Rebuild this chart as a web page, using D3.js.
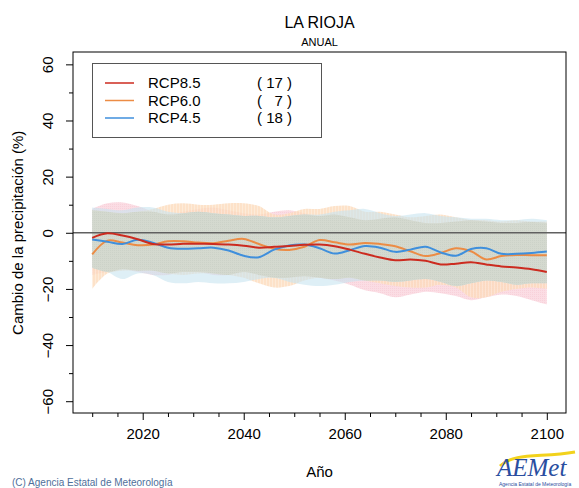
<!DOCTYPE html>
<html><head><meta charset="utf-8">
<script src="https://cdn.jsdelivr.net/npm/d3@7"></script>
<style>body{margin:0;background:#fff;}svg{display:block;font-family:"Liberation Sans",Arial,sans-serif;}</style>
</head><body>
<script>
const years = [2010,2013,2016,2019,2022,2025,2028,2031,2034,2037,2040,2043,2046,2049,2052,2055,2058,2061,2064,2067,2070,2073,2076,2079,2082,2085,2088,2091,2094,2097,2100];

const rcp85 = [-1.8,-0.2,-1.0,-2.3,-4.0,-4.2,-3.9,-3.9,-4.0,-4.2,-4.6,-5.3,-5.0,-4.7,-4.3,-4.2,-4.8,-6.0,-7.5,-8.8,-9.8,-9.5,-10.0,-11.3,-11.0,-10.5,-11.3,-12.0,-12.4,-13.0,-14.0];
const rcp60 = [-7.7,-2.8,-3.5,-4.4,-4.2,-3.0,-3.0,-3.5,-3.7,-2.8,-2.2,-4.0,-5.7,-6.1,-5.0,-2.6,-3.4,-4.2,-3.6,-4.0,-4.8,-6.6,-8.3,-7.2,-5.5,-6.6,-9.5,-8.3,-7.9,-8.0,-8.0];
const rcp45 = [-2.4,-3.2,-4.0,-2.5,-3.5,-5.3,-5.7,-5.5,-5.3,-6.3,-8.2,-8.7,-6.0,-4.5,-4.2,-5.5,-7.4,-6.2,-4.7,-5.3,-6.8,-6.0,-5.0,-7.0,-8.2,-5.8,-5.5,-7.5,-7.5,-7.2,-6.7];

const rcp85Hi = [8.5,10.5,10.8,9.5,7.5,6.5,7.5,8.5,9.0,8.0,7.0,6.5,7.5,8.0,7.0,6.0,6.5,5.5,4.5,5.0,5.5,4.5,3.5,3.5,4.0,4.5,4.0,3.5,3.5,3.8,3.5];
const rcp85Lo = [-15,-14,-13,-14,-15,-15,-14,-14,-15,-15,-14,-15,-16,-16,-15.5,-16,-17,-18.5,-20.5,-21.5,-23,-22,-21,-21.5,-22.5,-24,-23,-22,-22.5,-24,-25.5];
const rcp60Hi = [8,7.5,7,7.5,8.5,10,10.5,10,10,10.5,10.5,9.5,6.5,7,8.5,8.5,9.5,9.5,7.5,7.5,6.5,5.5,6.0,6.5,5.5,4.5,4.5,4.0,4.5,4.0,4.0];
const rcp60Lo = [-20,-14.5,-13.5,-13.5,-13.5,-14.5,-15,-14.5,-14.5,-15,-16,-18,-19.5,-19,-17,-16,-16.5,-16,-17,-18,-19,-19.5,-19.5,-18.5,-19.5,-23,-23,-21,-20,-19.5,-20];
const rcp45Hi = [9,8.5,8.0,9.0,9.0,7.5,7.0,7.5,7.0,6.5,6.0,6.0,5.5,6.0,6.5,6.5,7.5,8.0,8.5,7.0,6.0,6.5,7.0,6.0,5.5,5.0,5.0,4.5,4.5,5.0,4.5];
const rcp45Lo = [-12.5,-14,-16.5,-14.5,-15,-17.5,-18,-17.5,-18,-18,-17.5,-16.5,-16,-17.5,-18.5,-19,-18.5,-17.5,-17,-17,-17.5,-17,-16.5,-17.5,-19,-18,-17,-17.5,-18.5,-18,-18];

const seriesNames = ["RCP8.5","RCP6.0","RCP4.5"];
const seriesCounts = ["( 17 )","(   7 )","( 18 )"];
const xTicks = [2020,2040,2060,2080,2100];
const yTicks = [-60,-40,-20,0,20,40,60];

const W=579,H=488;
const L=73,R=566,T=52,B=413;
const svg=d3.select("body").append("svg").attr("width",W).attr("height",H);
const x=d3.scaleLinear().domain([2006.2,2103.8]).range([L,R]);
const y=d3.scaleLinear().domain([-64.2,64.4]).range([B,T]);

const defs=svg.append("defs");
const pO=defs.append("pattern").attr("id","hatchO").attr("patternUnits","userSpaceOnUse").attr("width",3).attr("height",3);
pO.append("rect").attr("width",3).attr("height",3).attr("fill","#fde6d0");
pO.append("line").attr("x1",1).attr("x2",1).attr("y1",0).attr("y2",3).attr("stroke","#fbd0a8").attr("stroke-width",1);
const pP=defs.append("pattern").attr("id","hatchP").attr("patternUnits","userSpaceOnUse").attr("width",2).attr("height",2);
pP.append("rect").attr("width",2).attr("height",2).attr("fill","#fad7df");
pP.append("rect").attr("width",1).attr("height",1).attr("fill","#f7c9d4");
const pG=defs.append("pattern").attr("id","hatchG").attr("patternUnits","userSpaceOnUse").attr("width",2).attr("height",2);
pG.append("rect").attr("width",2).attr("height",2).attr("fill","#d4d9cf");
pG.append("rect").attr("width",1).attr("height",1).attr("fill","#ccd2c8");

const band=(hi,lo)=>d3.area().x((d,i)=>x(years[i])).y0((d,i)=>y(lo[i])).y1((d,i)=>y(hi[i])).curve(d3.curveCatmullRom.alpha(0.5))(years);
const g=svg.append("g");
g.append("path").attr("d",band(rcp85Hi,rcp85Lo)).attr("fill","url(#hatchP)").attr("opacity",0.85);
g.append("path").attr("d",band(rcp60Hi,rcp60Lo)).attr("fill","url(#hatchO)").attr("opacity",0.8);
g.append("path").attr("d",band(rcp45Hi,rcp45Lo)).attr("fill","#c8e5f0").attr("opacity",0.6);
const interHi=years.map((d,i)=>Math.min(rcp85Hi[i],rcp60Hi[i],rcp45Hi[i]));
const interLo=years.map((d,i)=>Math.max(rcp85Lo[i],rcp60Lo[i],rcp45Lo[i]));
g.append("path").attr("d",band(interHi,interLo)).attr("fill","url(#hatchG)");

// zero line
svg.append("line").attr("x1",L).attr("x2",R).attr("y1",y(0)).attr("y2",y(0)).attr("stroke","#606060").attr("stroke-width",1.5);

const colors=["#cc2b1f","#ec8c45","#3f8fdc"];
const line=d3.line().x((d,i)=>x(years[i])).y(d=>y(d)).curve(d3.curveCatmullRom.alpha(0.5));
[rcp60,rcp45,rcp85].forEach((s,k)=>{
  const c=[colors[1],colors[2],colors[0]][k];
  svg.append("path").attr("d",line(s)).attr("fill","none").attr("stroke",c).attr("stroke-width",2);
});

// frame
svg.append("rect").attr("x",L).attr("y",T).attr("width",R-L).attr("height",B-T).attr("fill","none").attr("stroke","#000").attr("stroke-width",1);

// x axis
const xa=svg.append("g").attr("transform",`translate(0,${B})`)
  .call(d3.axisBottom(x).tickValues(xTicks).tickSize(7).tickPadding(8).tickFormat(d3.format("d")));
xa.select(".domain").remove();
xa.selectAll("text").attr("font-size",15).attr("fill","#000").attr("font-family","Liberation Sans, Arial, sans-serif");
const xm=svg.append("g").attr("transform",`translate(0,${B})`)
  .call(d3.axisBottom(x).tickValues(d3.range(2010,2101,5).filter(v=>v%20!==0)).tickSize(4).tickFormat(""));
xm.select(".domain").remove();

// y axis
const ya=svg.append("g").attr("transform",`translate(${L},0)`)
  .call(d3.axisLeft(y).tickValues(yTicks).tickSize(7).tickFormat(d3.format("d")));
ya.select(".domain").remove();
ya.selectAll("text").attr("font-size",15).attr("fill","#000").attr("font-family","Liberation Sans, Arial, sans-serif")
  .attr("x",null).attr("dy",null).attr("text-anchor","middle")
  .attr("transform","translate(-20,0) rotate(-90)");
const ym=svg.append("g").attr("transform",`translate(${L},0)`)
  .call(d3.axisLeft(y).tickValues([-50,-30,-10,10,30,50]).tickSize(4).tickFormat(""));
ym.select(".domain").remove();

// titles
const cx=(L+R)/2;
svg.append("text").attr("x",cx).attr("y",28).attr("text-anchor","middle").attr("font-size",16).text("LA RIOJA");
svg.append("text").attr("x",cx).attr("y",46).attr("text-anchor","middle").attr("font-size",11).text("ANUAL");
svg.append("text").attr("x",cx).attr("y",477).attr("text-anchor","middle").attr("font-size",15).text("Año");
svg.append("text").attr("transform",`translate(23,${y(0)}) rotate(-90)`).attr("text-anchor","middle").attr("font-size",15).text("Cambio de la precipitación (%)");

// legend
const lg=svg.append("g");
lg.append("rect").attr("x",92.5).attr("y",63.5).attr("width",229).attr("height",74).attr("fill","#fff").attr("stroke","#555").attr("stroke-width",1);
seriesNames.forEach((n,i)=>{
  const yy=83+i*17.5;
  lg.append("line").attr("x1",105).attr("x2",134).attr("y1",yy).attr("y2",yy).attr("stroke",colors[i]).attr("stroke-width",1.5);
  lg.append("text").attr("x",148).attr("y",yy+5).attr("font-size",15).text(n);
  lg.append("text").attr("x",257).attr("y",yy+5).attr("font-size",15).attr("xml:space","preserve").style("white-space","pre").text(seriesCounts[i]);
});

// footer
svg.append("text").attr("x",12).attr("y",486).attr("font-size",10).attr("fill","#4f6f9a").text("(C) Agencia Estatal de Meteorología");
const lgo=svg.append("g");
lgo.append("path").attr("d","M500,466 C515,452 540,458 575,452").attr("stroke","#f2d21c").attr("stroke-width",3).attr("fill","none");
lgo.append("text").attr("x",497).attr("y",476).attr("font-size",25).attr("font-style","italic").attr("fill","#2a4ea0").attr("font-family","Liberation Serif, serif").text("AEMet");
lgo.append("text").attr("x",499).attr("y",486).attr("font-size",5).attr("fill","#2a4ea0").text("Agencia Estatal de Meteorología");
</script>
</body></html>
